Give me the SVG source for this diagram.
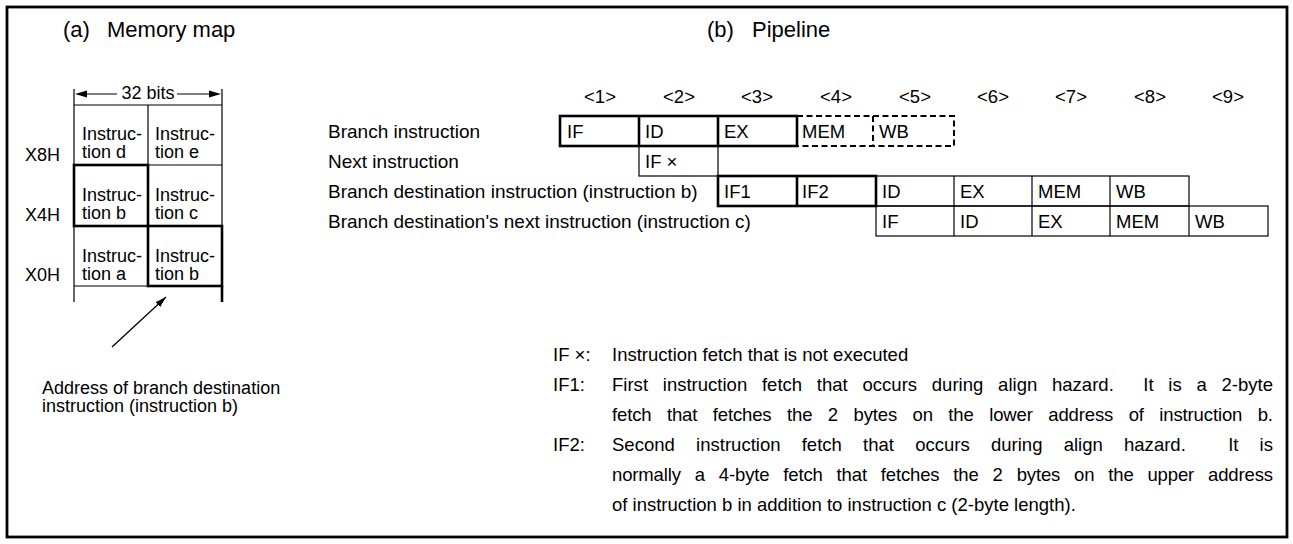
<svg xmlns="http://www.w3.org/2000/svg" width="1293" height="544" viewBox="0 0 1293 544">
<style>
text{font-family:"Liberation Sans",Arial,Helvetica,sans-serif;font-size:18.5px;fill:#000}
.title{font-size:22px}
.mm{font-size:18px}
.lbl{font-size:19px}
.thin{fill:none;stroke:#000;stroke-width:1.2}
.thick{fill:none;stroke:#000;stroke-width:2.6}
.dash{fill:none;stroke:#000;stroke-width:2;stroke-dasharray:6 3.5}
.ctr{text-anchor:middle}
</style>
<defs>
<marker id="ah" viewBox="0 0 10 6" refX="10" refY="3" markerWidth="11" markerHeight="7" markerUnits="userSpaceOnUse" orient="auto"><path d="M0,0 L10,3 L0,6 Z" fill="#000"/></marker>
</defs>
<rect x="0" y="0" width="1293" height="544" fill="#fff"/>
<rect id="frame" x="7" y="7" width="1280" height="530" fill="none" stroke="#000" stroke-width="2.8"/>

<g id="title-a"><text class="title" x="63" y="37">(a)</text><text class="title" x="107" y="37">Memory map</text></g>
<g id="title-b"><text class="title" x="707" y="37">(b)</text><text class="title" x="752" y="37">Pipeline</text></g>

<g id="memory-map">
  <line class="thin" x1="74" y1="89" x2="74" y2="302"/>
  <line class="thin" x1="148" y1="105" x2="148" y2="286"/>
  <line class="thin" x1="222" y1="89" x2="222" y2="302"/>
  <line class="thin" x1="74" y1="105" x2="222" y2="105"/>
  <line class="thin" x1="74" y1="165" x2="222" y2="165"/>
  <line class="thin" x1="74" y1="226" x2="222" y2="226"/>
  <line class="thin" x1="74" y1="286" x2="222" y2="286"/>
  <rect class="thick" x="74" y="165" width="74" height="61"/>
  <rect class="thick" x="148" y="226" width="74" height="60"/>
  <line class="thick" x1="222" y1="286" x2="222" y2="302"/>
  <line class="thin" x1="117" y1="94" x2="84" y2="94"/>
  <polygon points="75,94 87,90.5 87,97.5" fill="#000"/>
  <line class="thin" x1="177" y1="94" x2="210" y2="94"/>
  <polygon points="221,94 209,90.5 209,97.5" fill="#000"/>
  <text x="148" y="99" class="ctr mm">32 bits</text>
  <g id="row-x8h">
    <text class="mm" x="25" y="161">X8H</text>
    <text class="mm" x="82" y="140">Instruc-</text><text class="mm" x="82" y="158">tion d</text>
    <text class="mm" x="155" y="140">Instruc-</text><text class="mm" x="155" y="158">tion e</text>
  </g>
  <g id="row-x4h">
    <text class="mm" x="25" y="221">X4H</text>
    <text class="mm" x="82" y="201">Instruc-</text><text class="mm" x="82" y="219">tion b</text>
    <text class="mm" x="155" y="201">Instruc-</text><text class="mm" x="155" y="219">tion c</text>
  </g>
  <g id="row-x0h">
    <text class="mm" x="25" y="281">X0H</text>
    <text class="mm" x="82" y="262">Instruc-</text><text class="mm" x="82" y="280">tion a</text>
    <text class="mm" x="155" y="262">Instruc-</text><text class="mm" x="155" y="280">tion b</text>
  </g>
</g>

<g id="connectors">
  <line x1="112" y1="347" x2="166" y2="297" stroke="#000" stroke-width="1.3" marker-end="url(#ah)"/>
</g>

<g id="address-note">
  <text class="mm" x="42" y="394">Address of branch destination</text>
  <text class="mm" x="42" y="412">instruction (instruction b)</text>
</g>

<g id="pipeline">
  <g id="stages" class="ctr">
    <text x="600" y="103">&lt;1&gt;</text>
    <text x="679" y="103">&lt;2&gt;</text>
    <text x="757" y="103">&lt;3&gt;</text>
    <text x="836" y="103">&lt;4&gt;</text>
    <text x="915" y="103">&lt;5&gt;</text>
    <text x="993" y="103">&lt;6&gt;</text>
    <text x="1071" y="103">&lt;7&gt;</text>
    <text x="1150" y="103">&lt;8&gt;</text>
    <text x="1228" y="103">&lt;9&gt;</text>
  </g>
  <g id="labels">
    <text class="lbl" x="328" y="138">Branch instruction</text>
    <text class="lbl" x="328" y="168">Next instruction</text>
    <text class="lbl" x="328" y="198">Branch destination instruction (instruction b)</text>
    <text class="lbl" x="328" y="228">Branch destination's next instruction (instruction c)</text>
  </g>
  <g id="row-branch">
    <path class="dash" d="M797,116 H954 V146 H797 M873,116 V146"/>
    <rect class="thick" x="560" y="116" width="237" height="30"/>
    <line class="thick" x1="639" y1="116" x2="639" y2="146"/>
    <line class="thick" x1="718" y1="116" x2="718" y2="146"/>
    <text x="567" y="138">IF</text><text x="645" y="138">ID</text><text x="724" y="138">EX</text>
    <text x="802" y="138">MEM</text><text x="879" y="138">WB</text>
  </g>
  <g id="row-next">
    <rect class="thin" x="639" y="146" width="79" height="30"/>
    <text x="645" y="168">IF ×</text>
  </g>
  <g id="row-dest">
    <rect class="thin" x="876" y="176" width="313" height="30"/>
    <line class="thin" x1="954" y1="176" x2="954" y2="206"/>
    <line class="thin" x1="1032" y1="176" x2="1032" y2="206"/>
    <line class="thin" x1="1110" y1="176" x2="1110" y2="206"/>
    <rect class="thick" x="718" y="176" width="158" height="30"/>
    <line class="thick" x1="797" y1="176" x2="797" y2="206"/>
    <text x="724" y="198">IF1</text><text x="802" y="198">IF2</text><text x="882" y="198">ID</text>
    <text x="960" y="198">EX</text><text x="1038" y="198">MEM</text><text x="1116" y="198">WB</text>
  </g>
  <g id="row-dest-next">
    <rect class="thin" x="876" y="206" width="392" height="30"/>
    <line class="thin" x1="954" y1="206" x2="954" y2="236"/>
    <line class="thin" x1="1032" y1="206" x2="1032" y2="236"/>
    <line class="thin" x1="1110" y1="206" x2="1110" y2="236"/>
    <line class="thin" x1="1189" y1="206" x2="1189" y2="236"/>
    <text x="882" y="228">IF</text><text x="960" y="228">ID</text><text x="1038" y="228">EX</text>
    <text x="1116" y="228">MEM</text><text x="1195" y="228">WB</text>
  </g>
</g>

<g id="legend">
  <text x="553" y="361">IF ×:</text>
  <text x="612" y="361">Instruction fetch that is not executed</text>
  <text x="553" y="391">IF1:</text>
  <text x="612" y="391" xml:space="preserve" style="white-space:pre" word-spacing="9.6" textLength="661" lengthAdjust="spacing">First instruction fetch that occurs during align hazard.  It is a 2-byte</text>
  <text x="612" y="421" word-spacing="10.5" textLength="661" lengthAdjust="spacing">fetch that fetches the 2 bytes on the lower address of instruction b.</text>
  <text x="553" y="451">IF2:</text>
  <text x="612" y="451" xml:space="preserve" style="white-space:pre" word-spacing="16" textLength="661" lengthAdjust="spacing">Second instruction fetch that occurs during align hazard.  It is</text>
  <text x="612" y="481" word-spacing="8.9" textLength="661" lengthAdjust="spacing">normally a 4-byte fetch that fetches the 2 bytes on the upper address</text>
  <text x="612" y="511">of instruction b in addition to instruction c (2-byte length).</text>
</g>
</svg>
